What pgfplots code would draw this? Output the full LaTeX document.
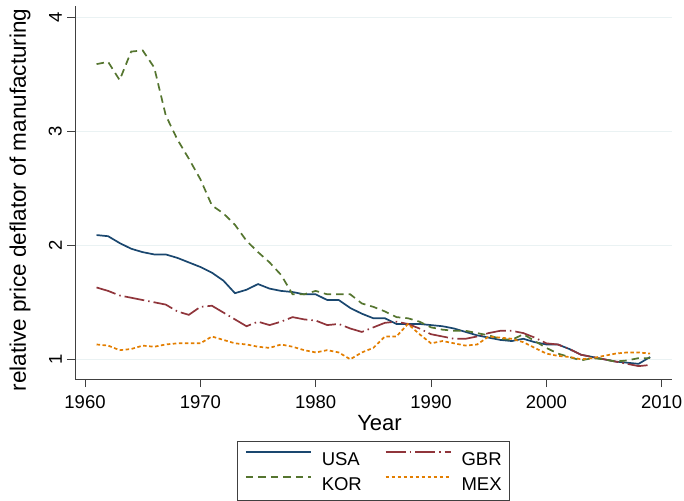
\documentclass[border=0pt]{standalone}
\usepackage{pgfplots}
\pgfplotsset{compat=1.18}
\usepackage{fontspec}
\setmainfont{Liberation Sans}
\definecolor{usa}{RGB}{26,71,111}
\definecolor{kor}{RGB}{85,117,47}
\definecolor{gbr}{RGB}{144,53,59}
\definecolor{mex}{RGB}{227,126,0}
\definecolor{gridc}{RGB}{234,242,243}
\begin{document}
\begin{tikzpicture}
\useasboundingbox (0,0) rectangle (684bp,501bp);
\begin{axis}[
 at={(75bp,122bp)}, anchor=south west,
 width=596.7bp, height=373bp, scale only axis,
 xmin=1959.13, xmax=2010.87, ymin=0.827, ymax=4.10,
 axis lines=left, axis line style={-, black!75, line width=0.9bp},
 xtick={1960,1970,...,2010}, ytick={1,2,3,4},
 tick align=outside, major tick length=8bp,
 tick style={black!75, line width=0.9bp},
 ymajorgrids, grid style={color=gridc, line width=1.3bp},
 /pgf/number format/assume math mode=true,
 /pgf/number format/1000 sep={},
 ticklabel style={font=\fontsize{18.5bp}{20bp}\selectfont, inner sep=0pt},
 xticklabel style={anchor=north, yshift=-8bp},
 yticklabel style={xshift=-5bp, rotate=90, anchor=south},
 xlabel={Year},
 xlabel style={at={(axis description cs:0.5103,-0.1394)}, anchor=base, font=\fontsize{22bp}{24bp}\selectfont, inner sep=0pt},
 ylabel={relative price deflator of manufacturing},
 ylabel style={at={(axis description cs:-0.0922,0.48)}, anchor=center, rotate=0, font=\fontsize{22.5bp}{24bp}\selectfont, inner sep=0pt},
 legend columns=2,
 legend cell align=left,
 legend style={at={(0.5,-0.1662)}, anchor=north, draw=black!75, line width=0.9bp,
   font=\fontsize{18.5bp}{20bp}\selectfont, inner xsep=8bp, inner ysep=10bp,
   nodes={inner sep=0pt, text height=13.3bp, text depth=0pt},
   row sep=10.7bp,
   /tikz/every odd column/.append style={column sep=10bp},
   /tikz/every even column/.append style={column sep=23bp}},
 legend image code/.code={\draw[#1, line width=1.7bp] (0bp,6.6bp) -- (65bp,6.6bp);},
]
\addplot[usa, line width=1.7bp] coordinates {
(1961,2.09) (1962,2.08) (1963,2.02) (1964,1.97) (1965,1.94) (1966,1.92) (1967,1.92) (1968,1.89) (1969,1.85) (1970,1.81)
(1971,1.76) (1972,1.69) (1973,1.58) (1974,1.61) (1975,1.66) (1976,1.62) (1977,1.60) (1978,1.59) (1979,1.57) (1980,1.57)
(1981,1.52) (1982,1.52) (1983,1.45) (1984,1.40) (1985,1.36) (1986,1.36) (1987,1.31) (1988,1.31) (1989,1.31) (1990,1.30)
(1991,1.29) (1992,1.27) (1993,1.24) (1994,1.21) (1995,1.19) (1996,1.17) (1997,1.16) (1998,1.18) (1999,1.15) (2000,1.13)
(2001,1.13) (2002,1.09) (2003,1.04) (2004,1.02) (2005,1.00) (2006,0.98) (2007,0.97) (2008,0.96) (2009,1.02)
};
\addlegendentry{USA}
\addplot[gbr, line width=1.7bp, dash pattern=on 20bp off 4bp on 1.5bp off 4bp] coordinates {
(1961,1.63) (1962,1.60) (1963,1.56) (1964,1.54) (1965,1.52) (1966,1.50) (1967,1.48) (1968,1.42) (1969,1.39) (1970,1.46)
(1971,1.47) (1972,1.41) (1973,1.35) (1974,1.29) (1975,1.33) (1976,1.30) (1977,1.33) (1978,1.37) (1979,1.35) (1980,1.34)
(1981,1.30) (1982,1.31) (1983,1.27) (1984,1.24) (1985,1.28) (1986,1.32) (1987,1.33) (1988,1.31) (1989,1.27) (1990,1.22)
(1991,1.20) (1992,1.18) (1993,1.18) (1994,1.20) (1995,1.23) (1996,1.25) (1997,1.25) (1998,1.23) (1999,1.19) (2000,1.14)
(2001,1.13) (2002,1.09) (2003,1.04) (2004,1.02) (2005,1.00) (2006,0.98) (2007,0.96) (2008,0.94) (2009,0.95)
};
\addlegendentry{GBR}
\addplot[kor, line width=1.7bp, dash pattern=on 7.5bp off 5bp] coordinates {
(1961,3.59) (1962,3.61) (1963,3.45) (1964,3.70) (1965,3.71) (1966,3.56) (1967,3.14) (1968,2.93) (1969,2.76) (1970,2.58)
(1971,2.35) (1972,2.28) (1973,2.18) (1974,2.04) (1975,1.94) (1976,1.85) (1977,1.74) (1978,1.57) (1979,1.57) (1980,1.60)
(1981,1.57) (1982,1.57) (1983,1.57) (1984,1.49) (1985,1.46) (1986,1.42) (1987,1.37) (1988,1.36) (1989,1.33) (1990,1.28)
(1991,1.26) (1992,1.25) (1993,1.25) (1994,1.23) (1995,1.21) (1996,1.18) (1997,1.17) (1998,1.22) (1999,1.16) (2000,1.10)
(2001,1.05) (2002,1.02) (2003,0.99) (2004,1.01) (2005,1.00) (2006,0.98) (2007,0.99) (2008,1.01) (2009,1.01)
};
\addlegendentry{KOR}
\addplot[mex, line width=1.7bp, dash pattern=on 3.5bp off 2.5bp] coordinates {
(1961,1.13) (1962,1.12) (1963,1.08) (1964,1.09) (1965,1.12) (1966,1.11) (1967,1.13) (1968,1.14) (1969,1.14) (1970,1.14)
(1971,1.20) (1972,1.17) (1973,1.14) (1974,1.13) (1975,1.11) (1976,1.10) (1977,1.13) (1978,1.11) (1979,1.08) (1980,1.06)
(1981,1.08) (1982,1.06) (1983,1.00) (1984,1.06) (1985,1.10) (1986,1.20) (1987,1.20) (1988,1.31) (1989,1.22) (1990,1.14)
(1991,1.16) (1992,1.14) (1993,1.12) (1994,1.13) (1995,1.20) (1996,1.19) (1997,1.18) (1998,1.15) (1999,1.10) (2000,1.05)
(2001,1.03) (2002,1.02) (2003,1.00) (2004,1.01) (2005,1.03) (2006,1.05) (2007,1.06) (2008,1.06) (2009,1.05)
};
\addlegendentry{MEX}
\end{axis}
\end{tikzpicture}
\end{document}
